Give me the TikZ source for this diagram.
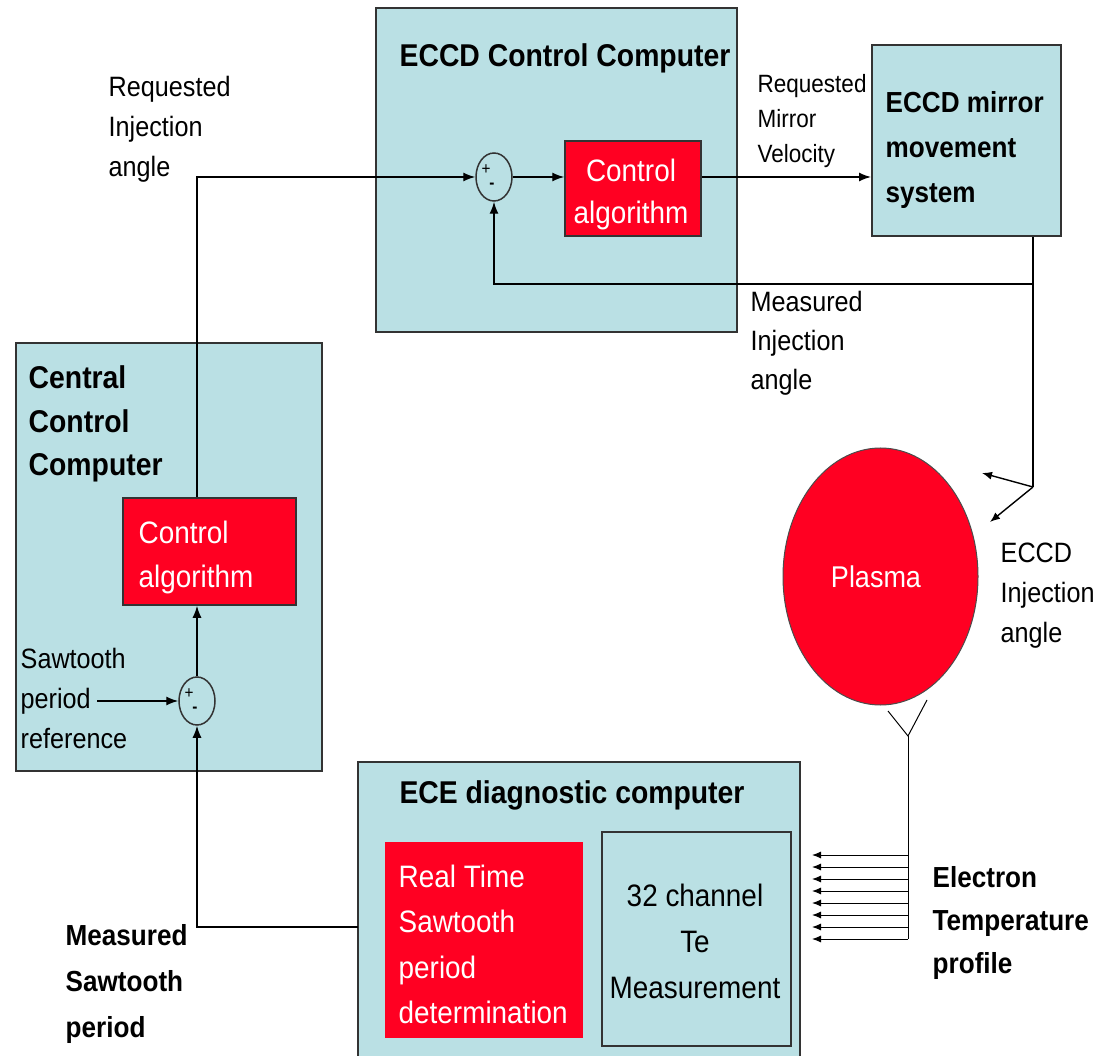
\documentclass[tikz,border=0pt]{standalone}
\usepackage{fontspec}
\setmainfont{Liberation Sans}[FakeStretch=0.9]
\usetikzlibrary{arrows.meta,positioning,shapes.geometric}
\definecolor{cyanbox}{RGB}{186,224,228}
\definecolor{redbox}{RGB}{255,0,34}
\begin{document}
\begin{tikzpicture}[x=1pt,y=-1pt,line width=1.4pt,>={Latex[length=12pt,width=9pt]},
    comp/.style={draw=black!80,line width=2pt,fill=cyanbox,inner sep=0pt},
    algo/.style={draw=black!80,line width=1.5pt,fill=redbox,inner sep=0pt},
    sumj/.style={draw=black!80,ellipse,fill=cyanbox,line width=1.5pt,minimum width=36pt,minimum height=48pt,inner sep=0pt},
    sign/.style={inner sep=0pt,font=\fontsize{17}{17}\selectfont},
    lbl/.style={inner sep=0pt,align=left,anchor=base west,font=\fontsize{28}{40}\selectfont},
    blbl/.style={lbl,font=\fontsize{29}{45}\selectfont\bfseries},
    ttl/.style={lbl,font=\fontsize{31.5}{44}\selectfont\bfseries},
    wtxt/.style={inner sep=0pt,text=white,font=\fontsize{31}{44}\selectfont}]
        \useasboundingbox (0,0) rectangle (1109,1056);
        \fill[white] (0,0) rectangle (1109,1056);
        \node[comp,minimum width=361pt,minimum height=324pt] (eccd) at (556.5,170) {};
        \node[comp,minimum width=189pt,minimum height=191pt] (mirror) at (966.5,140.5) {};
        \node[comp,minimum width=306pt,minimum height=428pt] (central) at (169,557) {};
        \node[comp,minimum width=442pt,minimum height=298pt] (ece) at (579,911) {};
        \node[algo,minimum width=136pt,minimum height=95pt] (alg1) at (633,188.5) {};
        \node[algo,minimum width=173pt,minimum height=107pt] (alg2) at (209.5,551.5) {};
        \node[algo,draw=none,minimum width=198pt,minimum height=196pt] (rts) at (484,940) {};
        \node[draw=black!80,line width=2pt,minimum width=189pt,minimum height=214pt,inner sep=0pt] (te) at (696.5,939) {};
        \node[ellipse,draw=black!70,line width=1pt,fill=redbox,minimum width=195pt,minimum height=257pt,inner sep=0pt] (plasma) at (880.5,576.5) {};
        \node[sumj] (s1) at (494,177) {};
        \node[sumj] (s2) at (197,701) {};
        \node[sign] (s1p) at (486,170) {+};
        \node[sign] (s1m) at (492,186) {\textbf{-}};
        \node[sign] (s2p) at (189,694) {+};
        \node[sign] (s2m) at (195,710) {\textbf{-}};
        \node[ttl,anchor=base] (eccdt) at (565,67) {ECCD Control Computer};
        \node[blbl] (mirrort) at (885,203) {ECCD mirror\\movement\\system};
        \node[ttl] (centralt) at (28,476) {Central\\Control\\Computer};
        \node[ttl,anchor=base] (ecet) at (572,803) {ECE diagnostic computer};
        \node[blbl,font=\fontsize{29}{46}\selectfont\bfseries] (meast) at (65,1037) {Measured\\Sawtooth\\period};
        \node[blbl,font=\fontsize{29}{43}\selectfont\bfseries] (elect) at (932,973) {Electron\\Temperature\\profile};
        \node[wtxt,align=center,anchor=base,font=\fontsize{31}{42}\selectfont] (alg1t) at (631,224) {Control\\algorithm};
        \node[wtxt,align=left,anchor=base west] (alg2t) at (138,587) {Control\\algorithm};
        \node[wtxt,align=left,anchor=base west,font=\fontsize{31}{45.5}\selectfont] (rtst) at (398,1023.5) {Real Time\\Sawtooth\\period\\determination};
        \node[wtxt,text=black,align=center,anchor=base,font=\fontsize{31}{46}\selectfont] (tet) at (695,998) {32 channel\\Te\\Measurement};
        \node[wtxt,anchor=base,font=\fontsize{30}{40}\selectfont] (plasmat) at (876,587) {Plasma};
        \node[lbl] (reqinj) at (108,177) {Requested\\Injection\\angle};
        \node[lbl,font=\fontsize{25}{35}\selectfont] (reqvel) at (757,163) {Requested\\Mirror\\Velocity};
        \node[lbl,font=\fontsize{28}{39}\selectfont] (measinj) at (750,390) {Measured\\Injection\\angle};
        \node[lbl] (eccdinj) at (1000,642) {ECCD\\Injection\\angle};
        \node[lbl] (sawref) at (20,748) {Sawtooth\\period\\reference};
        \draw[->] (s2 |- alg2.north) |- (s1.west);
        \draw[->] (s1.east) -- (s1.east -| alg1.west);
        \draw[->] (alg1.east |- s1) -- (mirror.west |- s1);
        \coordinate (split) at (1033,284);
        \draw[->] (mirror.south -| split) -- (split) -| (s1.south);
        \coordinate (beam) at (1033,487);
        \coordinate (beamA) at (982,473);
        \coordinate (beamB) at (990,522);
        \draw (split) -- (beam);
        \draw[->,>={Latex[length=10pt,width=8pt]}] (beam) -- (beamA);
        \draw[->,>={Latex[length=10pt,width=8pt]}] (beam) -- (beamB);
        \coordinate (ant) at (908,736);
        \coordinate (antL) at (888,711);
        \coordinate (antR) at (927,700);
        \coordinate (bus) at (908,939);
        \draw[line width=1pt] (antL) -- (ant) -- (antR);
        \draw[line width=1pt] (ant) -- (bus);
        \foreach \k in {0,...,7}
            \draw[->,line width=1pt,>={Latex[length=9pt,width=7pt]}] (908,{855+12*\k}) -- (812,{855+12*\k});
        \coordinate (measout) at (358,927);
        \draw[->] (measout) -| (s2.south);
        \draw[->] (s2.north) -- (s2.north |- alg2.south);
        \coordinate (sref) at (97,701);
        \draw[->] (sref) -- (s2.west);
    \end{tikzpicture}
\end{document}
